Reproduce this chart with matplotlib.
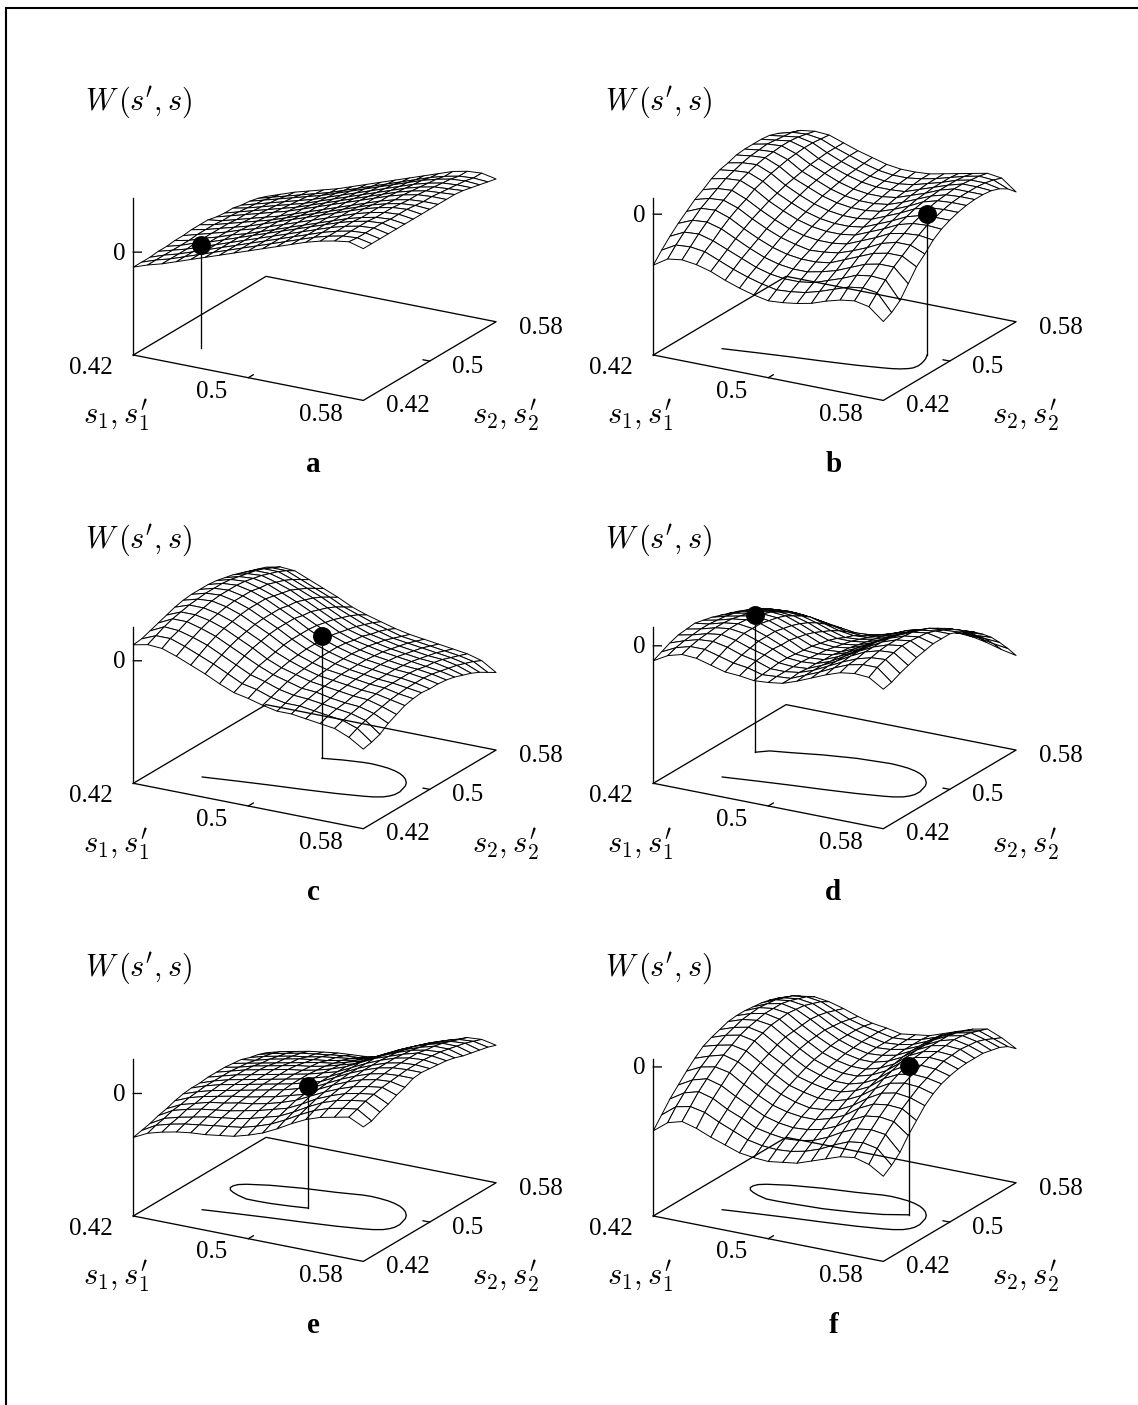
import numpy as np
import matplotlib
matplotlib.use('Agg')
import matplotlib.pyplot as plt
from matplotlib.lines import Line2D
from mpl_toolkits.mplot3d import proj3d

plt.rcParams['font.family'] = ['Liberation Serif', 'DejaVu Serif']
plt.rcParams['mathtext.fontset'] = 'cm'

W, H = 1138, 1405

# grid of the surfaces, rows run along s2, columns along s1
s_grid = [0.42, 0.43, 0.44, 0.45, 0.46, 0.47, 0.48, 0.49, 0.50,
          0.51, 0.52, 0.53, 0.54, 0.55, 0.56, 0.57, 0.58]

# W(s',s), arbitrary units
w_a = [
    [-15, -10, -6, -1, 4, 9, 14, 19, 24, 29, 34, 39, 44, 48, 51, 53, 49],
    [-15, -10, -6, -1, 4, 9, 14, 19, 24, 29, 34, 39, 44, 48, 51, 52, 49],
    [-15, -10, -6, -1, 4, 9, 14, 19, 24, 29, 34, 39, 44, 48, 51, 52, 49],
    [-14, -10, -6, -1, 4, 9, 14, 19, 24, 29, 34, 39, 44, 48, 51, 52, 49],
    [-14, -10, -5, -1, 4, 9, 14, 19, 24, 29, 34, 39, 44, 48, 51, 52, 49],
    [-13, -10, -5, -1, 4, 8, 13, 18, 23, 28, 33, 38, 43, 47, 50, 51, 49],
    [-13, -9, -5, -1, 4, 8, 13, 18, 23, 28, 33, 38, 43, 47, 50, 51, 49],
    [-12, -9, -5, -1, 3, 8, 13, 18, 23, 28, 33, 38, 43, 47, 50, 51, 49],
    [-12, -9, -5, -1, 3, 7, 12, 17, 22, 27, 32, 37, 42, 46, 49, 50, 49],
    [-12, -10, -6, -2, 2, 6, 11, 16, 21, 26, 31, 36, 41, 45, 48, 49, 49],
    [-14, -10, -6, -2, 2, 6, 11, 16, 21, 26, 31, 36, 41, 45, 48, 49, 49],
    [-15, -11, -7, -3, 1, 5, 10, 15, 20, 25, 30, 35, 40, 44, 47, 48, 49],
    [-15, -12, -8, -4, 0, 4, 9, 14, 19, 24, 29, 34, 39, 43, 46, 47, 48],
    [-17, -13, -9, -5, -1, 3, 8, 13, 18, 23, 28, 33, 38, 42, 45, 46, 46],
    [-18, -14, -10, -6, -2, 2, 7, 12, 17, 22, 27, 32, 37, 41, 44, 45, 44],
    [-20, -16, -12, -8, -4, 0, 5, 10, 15, 20, 25, 30, 35, 39, 42, 43, 42],
    [-23, -18, -13, -9, -5, -1, 4, 9, 14, 19, 24, 29, 34, 39, 42, 43, 40],
]
w_b = [
    [-51, -42, -40, -42, -46, -52, -57, -61, -64, -63, -61, -58, -53, -49, -47, -50, -62],
    [-41, -33, -32, -34, -40, -46, -51, -55, -58, -57, -55, -51, -46, -41, -39, -41, -58],
    [-32, -25, -24, -28, -34, -40, -46, -50, -52, -52, -50, -45, -40, -34, -32, -33, -51],
    [-24, -18, -17, -21, -28, -35, -41, -45, -47, -47, -44, -40, -34, -28, -25, -25, -39],
    [-17, -11, -10, -15, -23, -30, -36, -40, -42, -42, -40, -34, -28, -22, -19, -19, -27],
    [-10, -6, -5, -10, -18, -25, -31, -35, -38, -37, -35, -30, -24, -17, -13, -13, -19],
    [-5, -1, 0, -6, -14, -21, -27, -31, -33, -33, -31, -25, -19, -12, -9, -8, -10],
    [1, 4, 5, -1, -10, -17, -23, -27, -29, -29, -27, -21, -15, -8, -4, -3, -4],
    [5, 7, 8, 2, -7, -14, -20, -24, -26, -26, -24, -18, -12, -5, -1, 0, 0],
    [7, 10, 11, 5, -4, -11, -17, -21, -23, -23, -21, -15, -9, -2, 2, 3, 3],
    [10, 12, 13, 7, -2, -8, -14, -18, -20, -20, -18, -13, -7, 0, 4, 5, 5],
    [11, 13, 14, 9, 0, -6, -12, -16, -18, -18, -16, -11, -5, 1, 5, 6, 6],
    [11, 14, 15, 10, 2, -4, -10, -14, -16, -16, -14, -9, -4, 2, 6, 6, 6],
    [11, 13, 15, 11, 3, -3, -8, -12, -14, -14, -13, -8, -3, 2, 6, 6, 5],
    [10, 12, 14, 11, 4, -2, -7, -11, -13, -13, -11, -7, -3, 2, 5, 5, 2],
    [7, 11, 12, 10, 4, -1, -6, -10, -12, -12, -10, -7, -3, 1, 4, 3, -3],
    [2, 8, 10, 9, 4, -1, -5, -9, -11, -11, -10, -7, -4, -1, 2, 0, -11],
]
w_c = [
    [16, 19, 18, 13, 7, 1, -6, -12, -15, -19, -22, -22, -24, -26, -28, -34, -43],
    [17, 23, 23, 18, 12, 6, -1, -8, -11, -16, -19, -19, -21, -23, -25, -30, -41],
    [20, 27, 26, 22, 17, 10, 3, -4, -8, -13, -16, -17, -19, -21, -23, -27, -38],
    [23, 30, 30, 26, 21, 14, 7, 0, -6, -10, -14, -15, -18, -20, -21, -25, -32],
    [26, 32, 32, 29, 24, 17, 10, 2, -4, -8, -12, -14, -16, -18, -19, -23, -28],
    [29, 34, 34, 31, 26, 19, 12, 4, -2, -7, -11, -13, -15, -17, -18, -21, -24],
    [31, 35, 36, 33, 28, 21, 14, 6, -1, -6, -10, -12, -14, -16, -17, -20, -22],
    [32, 36, 37, 34, 29, 22, 15, 7, 0, -5, -9, -12, -14, -16, -17, -19, -21],
    [32, 36, 37, 34, 29, 22, 15, 7, 0, -5, -9, -12, -14, -16, -17, -19, -22],
    [32, 36, 37, 34, 29, 22, 15, 7, 0, -5, -9, -12, -14, -16, -17, -19, -22],
    [31, 35, 36, 32, 27, 20, 13, 6, -1, -6, -10, -13, -15, -17, -18, -20, -23],
    [29, 33, 34, 31, 25, 19, 12, 4, -3, -8, -11, -14, -16, -18, -20, -22, -25],
    [27, 31, 32, 28, 23, 16, 9, 2, -5, -9, -13, -16, -18, -20, -21, -24, -28],
    [24, 29, 29, 25, 19, 13, 6, -1, -7, -12, -15, -18, -20, -22, -23, -26, -31],
    [21, 26, 26, 21, 15, 9, 2, -4, -10, -14, -18, -20, -22, -24, -26, -29, -35],
    [18, 22, 22, 16, 10, 4, -3, -8, -13, -17, -21, -23, -25, -27, -29, -32, -40],
    [15, 18, 17, 11, 5, -1, -8, -13, -17, -21, -24, -26, -28, -30, -32, -36, -45],
]
w_d = [
    [-15, -7, -3, -4, -8, -12, -13, -15, -14, -12, -7, -1, 5, 10, 12, 11, 2],
    [-11, -4, 0, 0, -4, -8, -10, -14, -13, -12, -6, 0, 7, 13, 16, 16, 4],
    [-7, -2, 2, 3, 0, -5, -8, -13, -13, -11, -6, 1, 8, 14, 18, 19, 8],
    [-4, -1, 3, 5, 2, -3, -7, -12, -13, -12, -6, 1, 9, 16, 20, 21, 11],
    [-3, 0, 4, 6, 4, -1, -6, -12, -13, -12, -7, 1, 9, 16, 21, 23, 14],
    [-2, 0, 4, 6, 4, -1, -7, -13, -14, -13, -7, 0, 8, 16, 21, 23, 16],
    [-4, -1, 3, 5, 4, -1, -7, -14, -15, -13, -8, -1, 8, 15, 20, 22, 18],
    [-6, -2, 1, 4, 2, -3, -9, -15, -16, -15, -9, -2, 6, 13, 19, 21, 18],
    [-9, -4, -1, 1, 0, -5, -11, -17, -18, -16, -11, -4, 4, 11, 16, 18, 18],
    [-12, -7, -4, -2, -3, -8, -14, -19, -20, -18, -13, -6, 1, 8, 13, 14, 15],
    [-15, -10, -8, -7, -8, -12, -18, -22, -22, -20, -15, -9, -2, 4, 8, 10, 11],
    [-20, -14, -13, -12, -13, -17, -22, -26, -25, -22, -17, -12, -5, 0, 3, 4, 5],
    [-24, -19, -18, -18, -19, -23, -27, -29, -28, -24, -20, -15, -10, -5, -3, -3, -2],
    [-29, -25, -24, -25, -27, -30, -33, -34, -31, -27, -23, -19, -14, -11, -10, -11, -10],
    [-35, -31, -31, -33, -35, -37, -39, -38, -35, -30, -27, -23, -20, -18, -18, -19, -20],
    [-41, -38, -39, -42, -44, -46, -46, -43, -39, -33, -30, -27, -26, -25, -26, -29, -31],
    [-46, -46, -47, -52, -54, -55, -54, -49, -43, -37, -34, -32, -32, -33, -36, -40, -43],
]
w_e = [
    [-44, -37, -33, -30, -28, -27, -25, -23, -19, -14, -7, 1, 8, 13, 16, 19, 12],
    [-42, -34, -30, -27, -25, -23, -21, -19, -15, -10, -3, 5, 12, 17, 20, 22, 13],
    [-40, -32, -28, -25, -22, -20, -18, -15, -11, -7, 0, 8, 15, 20, 23, 25, 17],
    [-37, -29, -25, -22, -20, -18, -15, -12, -8, -4, 3, 11, 17, 22, 25, 27, 20],
    [-35, -28, -24, -20, -18, -15, -13, -10, -6, -1, 6, 13, 19, 24, 27, 29, 24],
    [-32, -26, -22, -19, -16, -14, -11, -8, -4, 0, 8, 15, 21, 26, 29, 30, 27],
    [-30, -25, -21, -18, -15, -12, -9, -6, -2, 2, 9, 16, 22, 27, 30, 31, 31],
    [-29, -24, -20, -17, -14, -11, -8, -5, -1, 3, 10, 17, 23, 28, 31, 32, 32],
    [-29, -24, -20, -17, -14, -11, -8, -5, -1, 3, 10, 17, 23, 28, 31, 32, 31],
    [-28, -24, -20, -17, -14, -11, -8, -5, -1, 3, 10, 17, 23, 28, 31, 32, 30],
    [-28, -24, -20, -17, -14, -11, -9, -6, -2, 3, 10, 17, 22, 27, 31, 31, 29],
    [-28, -25, -21, -18, -15, -12, -10, -7, -3, 1, 8, 15, 21, 26, 29, 30, 27],
    [-29, -26, -23, -20, -17, -14, -11, -9, -5, -1, 6, 13, 19, 24, 28, 28, 24],
    [-30, -28, -24, -21, -18, -16, -14, -11, -8, -3, 4, 11, 17, 22, 26, 26, 22],
    [-33, -29, -26, -23, -21, -18, -16, -14, -11, -6, 1, 8, 14, 19, 23, 24, 20],
    [-35, -31, -28, -25, -23, -21, -19, -18, -15, -9, -2, 5, 11, 16, 20, 21, 18],
    [-38, -34, -31, -28, -26, -24, -23, -22, -19, -13, -6, 1, 7, 12, 17, 18, 15],
]
w_f = [
    [-64, -53, -49, -53, -59, -64, -69, -71, -72, -70, -68, -63, -58, -53, -51, -55, -64],
    [-53, -42, -39, -42, -49, -55, -61, -64, -65, -64, -61, -56, -49, -43, -41, -44, -58],
    [-42, -33, -29, -33, -41, -47, -54, -57, -59, -58, -55, -49, -41, -35, -33, -35, -50],
    [-33, -25, -21, -25, -33, -40, -47, -51, -53, -52, -49, -43, -34, -27, -25, -27, -38],
    [-24, -17, -14, -17, -26, -34, -41, -45, -47, -47, -43, -37, -27, -20, -18, -19, -28],
    [-16, -11, -7, -11, -19, -28, -35, -40, -43, -42, -39, -32, -22, -14, -11, -13, -18],
    [-9, -5, -2, -5, -14, -23, -31, -35, -38, -38, -34, -27, -17, -9, -6, -7, -11],
    [-5, 0, 3, 0, -10, -18, -27, -31, -34, -34, -30, -23, -12, -5, -2, -3, -6],
    [-2, 3, 6, 3, -6, -15, -23, -28, -31, -31, -27, -20, -9, -1, 2, 1, -3],
    [1, 6, 8, 6, -3, -12, -20, -25, -28, -28, -24, -17, -6, 2, 5, 4, -1],
    [2, 7, 10, 7, -2, -10, -18, -23, -26, -26, -22, -15, -4, 3, 6, 5, 0],
    [2, 8, 10, 8, -1, -9, -16, -21, -24, -24, -20, -13, -3, 4, 7, 6, 0],
    [1, 7, 10, 7, 0, -8, -15, -20, -23, -22, -19, -12, -3, 4, 8, 5, 0],
    [0, 6, 8, 6, -1, -9, -15, -19, -22, -21, -18, -12, -3, 4, 7, 4, -2],
    [-2, 3, 5, 3, -3, -10, -15, -19, -22, -21, -18, -12, -4, 2, 5, 1, -4],
    [-5, 0, 2, 0, -6, -12, -16, -19, -22, -21, -18, -13, -6, -1, 2, -3, -8],
    [-9, -5, -3, -5, -9, -14, -18, -20, -23, -21, -19, -14, -9, -4, -1, -7, -15],
]

# height of the floor below W = 0 for each panel
floor_a, floor_b, floor_c, floor_d, floor_e, floor_f = 103, 141, 122.7, 137.7, 122.7, 149.3
axis_len = 157

# trajectory on the floor (s1, s2)
lead_s1 = [0.4504, 0.4719, 0.4928, 0.5141, 0.5350, 0.5513]
lead_s2 = [0.4504, 0.4546, 0.4584, 0.4618, 0.4656, 0.4696]
turn_s1 = [0.5571, 0.5623, 0.5649, 0.5663, 0.5666, 0.5653, 0.5642, 0.5620,
           0.5583, 0.5544, 0.5503, 0.5453, 0.5395, 0.5330, 0.5269, 0.5214]
turn_s2 = [0.4715, 0.4745, 0.4780, 0.4816, 0.4872, 0.4933, 0.4981, 0.5030,
           0.5083, 0.5122, 0.5153, 0.5179, 0.5199, 0.5210, 0.5216, 0.5211]
tail_b_s1 = [0.5562, 0.5608, 0.5649, 0.5669, 0.5678, 0.5674, 0.5664, 0.5653, 0.5630]
tail_b_s2 = [0.4710, 0.4730, 0.4760, 0.4786, 0.4831, 0.4877, 0.4926, 0.4966, 0.5021]
tail_c_s1 = [0.5089, 0.4964]
tail_c_s2 = [0.5187, 0.5150]
tail_d_s1 = [0.5039, 0.4835, 0.4641, 0.4522, 0.4459]
tail_d_s2 = [0.5193, 0.5144, 0.5080, 0.5045, 0.4982]
loop_s1 = [0.5051, 0.4841, 0.4641, 0.4510, 0.4470, 0.4455, 0.4456,
           0.4477, 0.4512, 0.4564, 0.4640, 0.4720, 0.4801]
loop_s2 = [0.5172, 0.5134, 0.5080, 0.5025, 0.4995, 0.4960, 0.4926,
           0.4890, 0.4862, 0.4832, 0.4800, 0.4800, 0.4804]
tail_e_s1 = [0.4929, 0.5042]
tail_e_s2 = [0.4823, 0.4847]
tail_f_s1 = [0.5022, 0.5228, 0.5385, 0.5524]
tail_f_s2 = [0.4822, 0.4866, 0.4915, 0.4988]

path_b = (lead_s1 + tail_b_s1, lead_s2 + tail_b_s2)
path_c = (lead_s1 + turn_s1 + tail_c_s1, lead_s2 + turn_s2 + tail_c_s2)
path_d = (lead_s1 + turn_s1 + tail_d_s1, lead_s2 + turn_s2 + tail_d_s2)
path_e = (lead_s1 + turn_s1 + loop_s1 + tail_e_s1, lead_s2 + turn_s2 + loop_s2 + tail_e_s2)
path_f = (lead_s1 + turn_s1 + loop_s1 + tail_f_s1, lead_s2 + turn_s2 + loop_s2 + tail_f_s2)

ball_a = (0.4497, 0.4507)
ball_b = (0.5630, 0.5021)
ball_c = (0.4964, 0.5150)
ball_d = (0.4459, 0.4982)
ball_e = (0.5042, 0.4847)
ball_f = (0.5524, 0.4988)

fig = plt.figure(figsize=(W / 100, H / 100), dpi=100)


def to_px(ax, s1, s2, z):
    xs, ys, _ = proj3d.proj_transform(s1, s2, z, ax.get_proj())
    return ax.transData.transform((xs, ys))


def label(x, y, txt, **kw):
    kw.setdefault('ha', 'center')
    kw.setdefault('va', 'center')
    kw.setdefault('fontsize', 18)
    fig.text(x / W, 1 - y / H, txt, **kw)


def panel(x0, y0, table, floor, path, ball, letter, w_dy, s1_dx):
    zmin, zmax = -floor, axis_len - floor
    side = 800.0
    ax = fig.add_axes([0, 0, side / W, side / H], projection='3d',
                      proj_type='ortho', computed_zorder=False)
    ax.view_init(elev=20, azim=-60)
    ax.set_box_aspect((266, 266, 167.1))
    ax.set_xlim(0.42, 0.58, view_margin=0)
    ax.set_ylim(0.42, 0.58, view_margin=0)
    ax.set_zlim(zmin, zmax, view_margin=0)
    ax.set_axis_off()

    # put the floor corner on its pixel, box scale taken from the front edge
    for _ in range(3):
        ax.apply_aspect()
        p0 = to_px(ax, 0.42, 0.42, zmin)
        p1 = to_px(ax, 0.58, 0.42, zmin)
        side *= 230.0 / (p1[0] - p0[0])
        pos = ax.get_position()
        ax.set_position([pos.x0, pos.y0, side / W, side / H])
        ax.apply_aspect()
        p0 = to_px(ax, 0.42, 0.42, zmin)
        pos = ax.get_position()
        ax.set_position([pos.x0 + (x0 - p0[0]) / W,
                         pos.y0 + ((H - y0) - p0[1]) / H, side / W, side / H])

    S1, S2 = np.meshgrid(s_grid, s_grid)
    surf = ax.plot_surface(S1, S2, np.array(table, dtype=float), rstride=1, cstride=1,
                           color='white', edgecolor='black', linewidth=0.7,
                           shade=False, antialiased=True, zorder=1)
    surf.set_clip_on(False)

    line = dict(color='black', linewidth=0.95, clip_on=False, zorder=2)
    ax.plot([0.42, 0.58, 0.58, 0.42, 0.42], [0.42, 0.42, 0.58, 0.58, 0.42], [zmin] * 5, **line)
    ax.plot([0.42, 0.42], [0.42, 0.42], [zmin, zmax], **line)
    ax.plot([0.42, 0.4242], [0.42, 0.4224], [0, 0], **line)
    ax.plot([0.50, 0.50], [0.42, 0.426], [zmin, zmin], **line)
    ax.plot([0.58, 0.5754], [0.50, 0.50], [zmin, zmin], **line)
    if path is not None:
        ax.plot(path[0], path[1], [zmin] * len(path[0]), **line)
    ax.plot([ball[0], ball[0]], [ball[1], ball[1]], [zmin, 0], **line)
    ax.plot([ball[0]], [ball[1]], [0], 'o', color='black', markersize=13.6,
            markeredgewidth=0, clip_on=False, zorder=3)

    # labels
    label(x0 - 20.6, y0 + 12.7, '0.42', ha='right')
    label(x0 + 78.4, y0 + 36.5, '0.5')
    label(x0 + 187.4, y0 + 59.5, '0.58')
    label(x0 + 274.7, y0 + 51, '0.42')
    label(x0 + 334.7, y0 + 12, '0.5')
    label(x0 + 407.7, y0 - 27, '0.58')
    label(x0 - 14, y0 - floor + 1.5, '0')
    label(x0 + s1_dx, y0 + 61, r"$s_1,s_1^{\prime}$", ha='left', fontsize=22)
    label(x0 + 339, y0 + 61, r"$s_2,s_2^{\prime}$", ha='left', fontsize=22)
    label(x0 - 48, y0 + w_dy, r"$W\,(s^{\prime},s)$", ha='left', fontsize=21.8)
    label(x0 + 180, y0 + 117, letter, va='baseline', fontweight='bold', fontsize=21)


panel(133.3, 355, w_a, floor_a, None, ball_a, 'a', -253, -50)
panel(653.3, 355, w_b, floor_b, path_b, ball_b, 'b', -253, -46.6)
panel(133.3, 783.3, w_c, floor_c, path_c, ball_c, 'c', -243, -50)
panel(653.3, 783.3, w_d, floor_d, path_d, ball_d, 'd', -243, -46.6)
panel(133.3, 1216, w_e, floor_e, path_e, ball_e, 'e', -248, -50)
panel(653.3, 1216, w_f, floor_f, path_f, ball_f, 'f', -248, -46.6)

# page rule on top and left only
fig.add_artist(Line2D([6 / W, 6 / W, 1], [0, 1 - 8 / H, 1 - 8 / H], color='black',
                      linewidth=1.5, solid_joinstyle='miter'))

fig.savefig('out.png', dpi=100)
